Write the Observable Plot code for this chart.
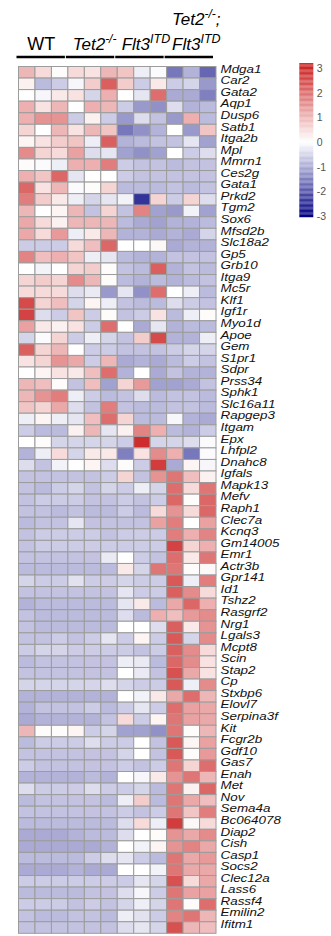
<!DOCTYPE html>
<html>
<head>
<meta charset="utf-8">
<script src="https://cdn.jsdelivr.net/npm/d3@7"></script>
<script src="https://cdn.jsdelivr.net/npm/@observablehq/plot@0.6"></script>
<style>
  html, body { margin: 0; padding: 0; background: #fff; }
  #wrap { position: relative; width: 331px; height: 936px; overflow: hidden; }
  #wrap svg { position: absolute; top: 0; overflow: visible; }
</style>
</head>
<body>
<div id="wrap"></div>
<script>
const genes = ["Mdga1","Car2","Gata2","Aqp1","Dusp6","Satb1","Itga2b","Mpl","Mmrn1","Ces2g",
"Gata1","Prkd2","Tgm2","Sox6","Mfsd2b","Slc18a2","Gp5","Grb10","Itga9","Mc5r",
"Klf1","Igf1r","Myo1d","Apoe","Gem","S1pr1","Sdpr","Prss34","Sphk1","Slc16a11",
"Rapgep3","Itgam","Epx","Lhfpl2","Dnahc8","Igfals","Mapk13","Mefv","Raph1","Clec7a",
"Kcnq3","Gm14005","Emr1","Actr3b","Gpr141","Id1","Tshz2","Rasgrf2","Nrg1","Lgals3",
"Mcpt8","Scin","Stap2","Cp","Stxbp6","Elovl7","Serpina3f","Kit","Fcgr2b","Gdf10",
"Gas7","Enah","Met","Nov","Sema4a","Bc064078","Diap2","Cish","Casp1","Socs2",
"Clec12a","Lass6","Rassf4","Emilin2","Ifitm1"];

const groups = ["WT", "Tet2", "Flt3", "Tet2Flt3"];
const samplesPerGroup = 3;

const values = [
[1.0,0.5,0.05,0.5,0.4,1.0,0.8,-0.2,-0.05,-1.6,-0.9,-1.8],
[0.2,-0.8,-0.6,-0.1,0.7,2.2,0.7,-0.6,0.3,-0.6,-0.5,-1.2],
[0.0,-0.1,0.3,0.4,-0.5,1.1,0.0,-0.3,2.0,-1.0,-1.0,-1.5],
[1.1,0.4,1.0,0.0,1.1,1.0,-0.6,-1.2,-1.3,-0.4,-0.9,-0.8],
[1.1,1.5,1.5,-0.6,0.2,-0.6,-1.2,-0.4,-0.7,-1.2,1.1,-0.8],
[0.6,0.0,1.0,0.4,1.0,0.8,-1.6,-1.3,-0.9,0.0,-1.2,0.8],
[0.15,0.4,0.7,0.8,-0.2,2.2,-0.9,-0.8,-0.7,-0.7,-0.3,-1.1],
[1.6,0.6,0.5,1.3,-0.4,-0.3,-1.1,-1.3,-1.1,0.0,-0.6,-0.4],
[0.05,-0.05,-0.2,1.1,1.1,1.8,-0.6,-0.7,-0.7,-0.8,-0.7,-0.7],
[1.1,0.8,2.1,-0.3,0.0,0.0,-0.6,-0.7,-0.7,-0.7,-0.7,-0.7],
[2.1,0.4,1.0,-0.05,0.05,0.6,-0.8,-0.8,-0.8,-0.7,-0.8,-0.7],
[1.8,0.7,0.3,-0.2,-0.5,-0.3,-0.15,-2.4,0.6,-0.6,0.6,-0.4],
[1.0,0.0,0.15,1.0,-0.7,0.6,-0.7,1.7,-1.1,-1.2,-0.15,-1.1],
[1.2,0.5,0.2,1.0,1.0,1.0,-0.8,-1.0,-1.1,-0.9,-0.9,-0.8],
[1.2,0.5,1.4,-0.2,0.3,1.0,-0.9,-0.9,-1.0,-0.9,-1.0,-0.5],
[-0.6,-0.6,-0.6,0.5,0.9,2.1,0.0,0.0,0.1,-1.0,-0.9,-0.9],
[1.7,0.9,1.1,0.8,-0.2,-0.3,-0.8,-0.9,-0.9,-0.7,-0.7,-0.7],
[0.0,-0.15,0.0,0.6,0.7,0.05,-0.7,-0.8,2.2,-0.9,-0.7,-0.8],
[0.6,0.7,0.6,1.6,1.0,0.05,-0.8,-0.9,-0.8,-0.9,-0.8,-0.7],
[0.5,0.5,0.5,-0.4,-0.25,-1.2,-0.3,-1.3,2.0,0.0,-0.2,-0.8],
[2.5,0.6,0.9,-0.5,0.15,-0.2,-0.7,-0.8,-0.8,-0.4,-0.6,-0.7],
[2.6,-0.4,-0.6,0.8,-0.6,0.05,-0.7,-0.6,0.4,-0.8,-0.2,0.05],
[1.3,0.3,0.2,0.4,-0.6,2.0,0.0,-1.0,-0.3,-0.9,-0.8,-0.8],
[-0.5,-0.05,0.6,-0.6,-0.2,-0.5,-0.7,0.7,2.5,-0.9,-0.9,-0.2],
[2.2,0.6,1.0,0.0,-0.6,-0.6,-0.7,-0.7,-0.7,-0.6,-0.5,-0.5],
[0.4,0.6,1.5,1.2,-0.6,1.0,-1.0,-0.9,-1.0,-0.8,-0.6,-0.7],
[0.0,0.15,0.4,0.3,0.9,2.0,-0.9,0.0,-1.0,-0.7,-0.9,-0.9],
[1.0,0.9,0.05,-0.7,0.9,-1.1,0.6,1.4,-1.1,-1.1,-1.0,-0.7],
[1.0,1.5,1.8,-0.2,-0.6,-0.8,-0.7,-0.4,-0.8,-0.7,-0.7,-0.8],
[0.8,0.6,1.2,-0.4,-0.7,1.8,-0.7,-0.8,-0.8,-0.7,-0.7,-0.8],
[-0.2,0.15,-0.2,-0.3,0.9,2.0,0.6,-0.8,-0.8,-0.1,-0.9,-1.0],
[-0.6,-0.8,-0.8,0.2,1.0,-0.3,0.2,1.7,1.1,-0.8,-0.9,-0.6],
[0.0,0.05,-0.5,-0.5,-0.5,-0.5,-0.6,2.9,-0.5,-0.5,-0.4,-0.05],
[-0.9,-0.2,0.5,-0.5,0.3,0.3,-1.5,0.4,1.6,1.1,-1.6,-0.05],
[-0.4,-0.7,-0.15,0.0,0.15,-0.4,0.05,-0.6,2.7,-1.0,0.15,-0.1],
[-0.7,-0.7,-0.7,-0.7,-0.7,-0.6,0.6,-0.7,1.5,1.9,0.9,0.2],
[-0.7,-0.8,-0.6,-0.5,-0.7,-0.5,-0.6,-0.2,-0.5,2.0,0.5,1.9],
[-0.7,-0.6,-0.6,-0.6,-0.7,-0.7,-0.6,-0.7,-0.6,2.1,0.05,2.1],
[-0.7,-0.7,-0.8,-0.7,-0.8,-0.8,-0.6,-0.8,0.5,1.5,0.5,2.1],
[-0.8,-0.7,-0.7,-0.3,-0.7,-0.7,-0.7,-0.7,1.3,1.8,0.0,1.3],
[-0.7,-0.6,-0.6,-0.6,-0.6,-0.7,-0.6,-0.6,-0.6,1.8,1.1,1.7],
[-0.7,-0.6,-0.6,-0.6,-0.6,-0.6,-0.6,-0.6,-0.6,2.6,0.6,1.1],
[-0.7,-0.7,-0.7,-0.7,-0.7,-0.25,0.0,-0.6,-0.7,2.0,0.3,1.9],
[-0.8,-0.8,-0.8,-0.8,-0.8,-0.8,0.3,-0.5,1.9,1.9,0.05,0.1],
[-0.5,-0.6,-0.6,-0.35,-0.6,-0.6,-0.5,-0.6,-0.6,2.3,-0.2,1.8],
[-0.7,-0.7,-0.7,-0.7,-0.7,-0.7,-0.3,-0.6,-0.6,2.2,1.6,0.5],
[-0.9,-0.8,-0.8,-0.8,-0.8,-0.8,-0.3,0.3,-0.8,1.2,2.1,1.1],
[-0.7,-0.8,-0.8,-0.8,-0.8,-0.8,-0.4,-0.8,1.1,0.9,1.4,1.6],
[-0.7,-0.8,-0.8,-0.8,-0.8,-0.8,0.0,0.0,-0.4,2.2,0.3,1.5],
[-0.7,-0.7,-0.6,-0.7,-0.6,-0.3,-0.6,0.15,-0.6,2.3,-0.5,1.6],
[-0.6,-0.5,-0.5,-0.6,-0.6,-0.6,-0.6,-0.7,-0.6,2.2,1.6,0.5],
[-0.8,-0.7,-0.7,-0.7,-0.7,-0.7,-0.2,-0.25,-0.8,2.1,1.6,0.4],
[-0.7,-0.7,-0.7,-0.7,-0.7,-0.7,0.0,-0.25,-0.7,2.4,1.2,0.4],
[-0.5,-0.5,-0.5,-0.5,-0.5,-0.4,-0.5,-0.6,-0.6,2.3,-0.2,1.6],
[-0.9,-0.9,-0.9,-0.9,-0.9,-0.9,0.0,-0.15,0.3,1.2,2.0,1.0],
[-0.9,-0.7,-0.7,-0.7,-0.6,-0.8,-0.6,-0.3,-0.6,2.0,1.3,1.2],
[-1.0,-0.9,-0.9,-0.9,-0.9,-0.7,0.5,-0.6,0.15,1.9,1.3,1.2],
[1.0,0.05,0.05,0.15,-0.6,-0.5,-1.1,-1.1,-1.3,1.9,0.05,1.0],
[-0.8,-0.6,-0.6,-0.6,-0.4,-0.6,-0.6,0.0,-0.7,2.3,0.15,1.3],
[-0.7,-0.7,-0.7,-0.7,-0.7,-0.7,-0.5,0.0,-0.7,2.3,0.05,1.4],
[-0.6,-0.7,-0.7,-0.7,-0.7,-0.7,-0.6,-0.7,-0.6,1.9,0.6,2.0],
[-0.9,-0.9,-0.9,-0.9,-0.8,-0.9,0.0,-0.1,0.3,1.5,1.9,1.0],
[-0.4,-0.6,-0.6,-0.6,-0.4,-0.6,-0.6,-0.5,-0.8,1.9,0.2,2.1],
[-0.8,-0.7,-0.7,-0.7,-0.7,-0.8,-0.2,0.7,-0.8,1.9,1.2,0.9],
[-0.7,-0.7,-0.7,-0.7,-0.7,-0.7,-0.6,-0.7,-0.6,1.9,0.8,1.8],
[-0.8,-0.8,-0.8,-0.8,-0.8,-0.8,-0.4,0.5,-0.2,2.7,0.1,0.5],
[-1.0,-1.0,-1.0,-0.9,-0.8,-0.8,-0.4,0.0,0.05,1.5,1.2,1.6],
[-1.0,-1.0,-1.0,-1.0,-1.0,-0.9,0.0,-0.15,0.15,1.5,1.7,1.2],
[-0.8,-0.8,-0.8,-0.8,-0.6,-0.4,-0.3,-0.6,-0.8,1.9,1.2,1.4],
[-1.0,-1.0,-1.0,-0.9,-1.0,-1.0,0.0,0.0,-0.15,1.9,1.2,1.2],
[-0.6,-0.6,-0.6,-0.6,-0.6,-0.6,-0.6,-0.3,-0.5,2.4,0.5,1.2],
[-0.8,-0.8,-0.8,-0.8,-0.7,-0.7,-0.4,-0.1,-0.6,1.9,1.3,1.3],
[-0.6,-0.6,-0.6,-0.7,-0.6,-0.7,-0.5,-0.2,-0.5,1.9,0.05,2.0],
[-0.7,-0.8,-0.8,-0.7,-0.7,-0.8,-0.2,-0.35,-0.6,1.7,1.9,1.0],
[-0.7,-0.7,-0.7,-0.7,-0.7,-0.7,-0.4,-0.3,-0.5,2.4,1.0,0.9]
];

const legendTicks = [-3, -2, -1, 0, 1, 2, 3];

const cells = [];
genes.forEach((g, i) => values[i].forEach((v, c) => cells.push({gene: g, col: c, v})));

const colorScale = {type: "linear", domain: [-3, 0, 3], range: ["#000080", "#ffffff", "#cd2626"], interpolate: "rgb", clamp: true};
const FONT = "'Liberation Sans', Arial, Helvetica, sans-serif";

const plot = Plot.plot({
  width: 331, height: 936,
  marginLeft: 18.5, marginRight: 115, marginTop: 66.5, marginBottom: 2.7,
  style: {fontFamily: FONT, background: "transparent", overflow: "visible"},
  x: {domain: [0, groups.length * samplesPerGroup], axis: null},
  y: {domain: genes, padding: 0, axis: null},
  color: colorScale,
  marks: [
    Plot.barX(cells, {x1: "col", x2: d => d.col + 1, y: "gene", fill: "v", stroke: "#9c9c9c", strokeWidth: 1}),
    Plot.axisY({anchor: "right", label: null, tickSize: 0, tickPadding: 4, fontSize: 11, fontStyle: "italic", fill: "#111"})
  ]
});

// stretch gene labels horizontally like the reference
d3.select(plot).selectAll("g[aria-label='y-axis tick label'] text").each(function() {
  const t = this.getAttribute("transform") || "";
  const x = +this.getAttribute("x") || 0, y = +this.getAttribute("y") || 0;
  this.removeAttribute("x"); this.removeAttribute("y");
  this.setAttribute("transform", `${t} translate(${x},${y}) scale(1.22,1)`);
});

// group headers and underlines positioned from the x scale
const xs = plot.scale("x");
const svg = d3.select(plot);
const hg = svg.append("g").attr("font-family", FONT).attr("fill", "#000");
groups.forEach((g, gi) => {
  const x0 = xs.apply(gi * samplesPerGroup), x1 = xs.apply((gi + 1) * samplesPerGroup);
  hg.append("line").attr("x1", x0 - 2).attr("x2", x1 - 3).attr("y1", 57).attr("y2", 57)
    .attr("stroke", "#000").attr("stroke-width", 2.6);
});
function header(cx, baseline, parts) {
  const t = hg.append("text").attr("x", cx).attr("y", baseline).attr("text-anchor", "middle");
  parts.forEach(p => {
    const s = t.append("tspan").text(p.text).attr("font-size", p.size).attr("font-style", p.italic ? "italic" : "normal");
    if (p.dy) s.attr("dy", p.dy);
  });
}
const cx = gi => (xs.apply(gi * samplesPerGroup) + xs.apply((gi + 1) * samplesPerGroup)) / 2;
header(cx(0) - 2, 50, [{text: "WT", size: 18}]);
header(cx(1) + 2, 50, [{text: "Tet2", size: 17, italic: true}, {text: "-/-", size: 12, italic: true, dy: -7}]);
header(cx(2) + 4, 50, [{text: "Flt3", size: 17, italic: true}, {text: "ITD", size: 12.5, italic: true, dy: -7}]);
header(cx(3) + 5, 25, [{text: "Tet2", size: 17, italic: true}, {text: "-/-", size: 12, italic: true, dy: -7}, {text: ";", size: 17, italic: true, dy: 7}]);
header(cx(3) + 5, 50, [{text: "Flt3", size: 17, italic: true}, {text: "ITD", size: 12.5, italic: true, dy: -7}]);

// colour bar legend, its own small plot sharing the colour scale
const legend = Plot.plot({
  width: 45, height: 240,
  marginLeft: 9.3, marginRight: 21.7, marginTop: 68, marginBottom: 24,
  style: {fontFamily: FONT, background: "transparent", overflow: "visible"},
  x: {domain: [0, 1], axis: null},
  y: {domain: [-3, 3], axis: null},
  color: colorScale,
  marks: [
    Plot.rect(d3.range(-3.05, 3.2, 0.05), {x1: 0, x2: 1, y1: d => d, y2: d => d + 0.051, fill: d => Math.max(-3, Math.min(3, d + 0.025))}),
    Plot.axisY(legendTicks, {anchor: "right", label: null, tickSize: 0, tickPadding: 3, fontSize: 10.5, fill: "#555", tickFormat: d => String(d)})
  ]
});
legend.style.left = "290px";

const wrap = document.getElementById("wrap");
plot.style.left = "0px";
wrap.appendChild(plot);
wrap.appendChild(legend);
</script>
</body>
</html>
